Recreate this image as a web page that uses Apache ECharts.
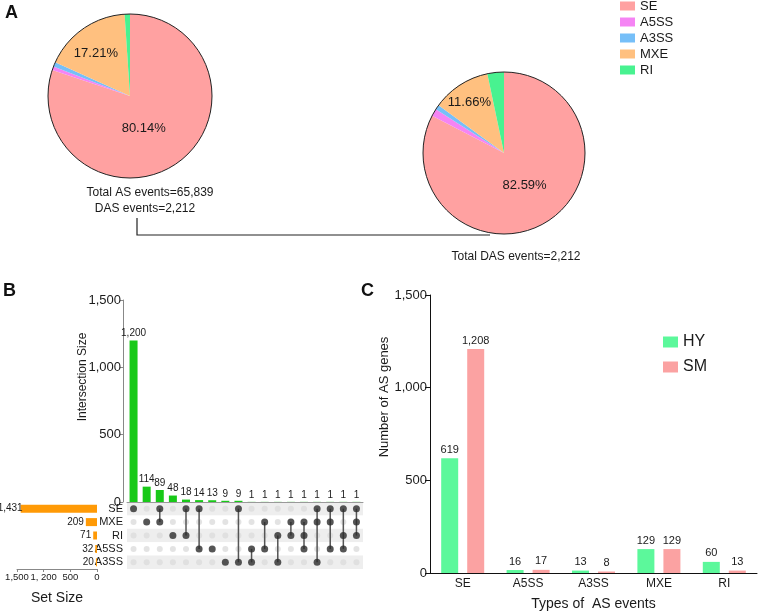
<!DOCTYPE html>
<html>
<head>
<meta charset="utf-8">
<script src="https://cdn.jsdelivr.net/npm/echarts@6.0.0/dist/echarts.min.js"></script>
<style>
  html, body { margin: 0; padding: 0; background: #fff; }
  #chart { width: 761px; height: 612px; }
</style>
</head>
<body>
<div id="chart"></div>
<script>
// --- Panel A: share of AS event types (all events vs. differential events)
const pieTypes = ['SE', 'A5SS', 'A3SS', 'MXE', 'RI']
const asEvents = [52764, 461, 593, 11331, 690]      // total 65,839
const dasEvents = [1827, 33, 21, 258, 73]           // total 2,212
const labeledTypes = ['SE', 'MXE']

// --- Panel B: UpSet plot
const setNames = ['SE', 'MXE', 'RI', 'A5SS', 'A3SS']
const setSizes = [1431, 209, 71, 32, 20]
const setTickLabels = { 0: '0', 500: '500', 1000: '1, 200', 1500: '1,500' }
const interSizes = [1200, 114, 89, 48, 18, 14, 13, 9, 9, 1, 1, 1, 1, 1, 1, 1, 1, 1]
const interSets = [
  ['SE'], ['MXE'], ['SE', 'MXE'], ['RI'], ['SE', 'RI'], ['SE', 'A5SS'], ['A5SS'], ['A3SS'],
  ['SE', 'A3SS'], ['A5SS', 'A3SS'], ['MXE', 'A5SS'], ['RI', 'A3SS'], ['MXE', 'RI'],
  ['MXE', 'RI', 'A5SS'], ['SE', 'MXE', 'A3SS'], ['SE', 'MXE', 'A5SS'], ['SE', 'RI', 'A5SS'],
  ['SE', 'MXE', 'RI']
]

// --- Panel C: AS genes per event type
const eventTypes = ['SE', 'A5SS', 'A3SS', 'MXE', 'RI']
const hyGenes = [619, 16, 13, 129, 60]
const smGenes = [1208, 17, 8, 129, 13]

const font = 'Arial, "Liberation Sans", sans-serif'
const pieColors = ['#FFA1A1', '#F584F4', '#76BFF8', '#FFC07F', '#48F290']
const addCommas = v => String(v).replace(/\B(?=(\d{3})+(?!\d))/g, ',')

// small nudges so the pie % labels sit where the figure has them
const pieLabelNudge = [
  { SE: [-12, -3], MXE: [-9, -6] },
  { SE: [-2, -5], MXE: [-11, -14] }
]

const pieSeries = (idx, values, center, radius) => {
  const total = values.reduce((s, v) => s + v, 0)
  return {
    name: 'pie' + idx,
    type: 'pie',
    center,
    radius,
    startAngle: 90,
    clockwise: true,
    silent: true,
    avoidLabelOverlap: false,
    data: pieTypes.map((t, i) => ({
      name: t,
      value: values[i],
      itemStyle: { color: pieColors[i] },
      label: { show: labeledTypes.includes(t) }
    })),
    itemStyle: { borderWidth: 0 },
    label: {
      position: 'inside',
      fontFamily: font,
      fontSize: 13,
      color: '#1a1a1a',
      formatter: p => (p.value / total * 100).toFixed(2) + '%'
    },
    labelLine: { show: false },
    labelLayout: p => {
      const n = pieLabelNudge[idx][pieTypes[p.dataIndex]]
      return n ? { dx: n[0], dy: n[1] } : {}
    },
    z: 2
  }
}

// thin black rim round each pie
const pieRim = (center, radius) => ({
  type: 'pie',
  center,
  radius,
  silent: true,
  data: [{ value: 1, name: 'rim' }],
  itemStyle: { color: 'rgba(0,0,0,0)', borderColor: '#222', borderWidth: 1 },
  label: { show: false },
  labelLine: { show: false },
  z: 3
})

// matrix points: inactive (grey) and active (dark)
const inactiveDots = []
const activeDots = []
const links = []
interSets.forEach((sets, c) => {
  const rows = sets.map(s => setNames.indexOf(s))
  setNames.forEach((s, r) => {
    if (rows.includes(r)) activeDots.push([c, r])
    else inactiveDots.push([c, r])
  })
  if (rows.length > 1) links.push([c, Math.min(...rows), Math.max(...rows)])
})

const chart = echarts.init(document.getElementById('chart'))

const option = {
  animation: false,
  textStyle: { fontFamily: font },

  legend: [
    {
      data: pieTypes,
      orient: 'vertical',
      left: 620,
      top: -2,
      padding: 0,
      itemWidth: 15,
      itemHeight: 9,
      itemGap: 0,
      icon: 'rect',
      selectedMode: false,
      textStyle: { fontFamily: font, fontSize: 13, lineHeight: 16, color: '#1a1a1a' }
    },
    {
      data: ['HY', 'SM'],
      orient: 'vertical',
      left: 663,
      top: 334,
      padding: 0,
      itemWidth: 15,
      itemHeight: 11,
      itemGap: 9,
      icon: 'rect',
      selectedMode: false,
      textStyle: { fontFamily: font, fontSize: 16, lineHeight: 16, color: '#1a1a1a' }
    }
  ],

  grid: [
    { left: 127, width: 236, top: 300, height: 202 },   // intersection bars
    { left: 127, width: 236, top: 502, height: 67 },    // matrix
    { left: 17, width: 80, top: 502, height: 67 },      // set size
    { left: 430, width: 327, top: 295, height: 283 }    // panel C
  ],

  xAxis: [
    {
      gridIndex: 0,
      type: 'category',
      data: interSizes.map((v, i) => 'c' + i),
      axisLine: { lineStyle: { color: '#999' } },
      axisTick: { show: false },
      axisLabel: { show: false }
    },
    {
      gridIndex: 1,
      type: 'category',
      data: interSizes.map((v, i) => 'c' + i),
      show: false
    },
    {
      gridIndex: 2,
      type: 'value',
      inverse: true,
      min: 0,
      max: 1500,
      interval: 500,
      axisLine: { show: true, lineStyle: { color: '#888' } },
      axisTick: { show: true, length: 3, lineStyle: { color: '#888' } },
      axisLabel: {
        fontSize: 9.5,
        color: '#1a1a1a',
        margin: 3,
        hideOverlap: false,
        showMinLabel: true,
        showMaxLabel: true,
        formatter: v => setTickLabels[v] ?? ''
      },
      splitLine: { show: false },
      name: 'Set Size',
      nameLocation: 'middle',
      nameGap: 22,
      nameTextStyle: { fontSize: 14, color: '#1a1a1a' }
    },
    {
      gridIndex: 3,
      type: 'category',
      data: eventTypes,
      axisLine: { lineStyle: { color: '#111' } },
      axisTick: { show: false },
      axisLabel: { fontSize: 12, color: '#1a1a1a', margin: 5 },
      name: 'Types of  AS events',
      nameLocation: 'middle',
      nameGap: 24,
      nameTextStyle: { fontSize: 14, color: '#1a1a1a' }
    }
  ],

  yAxis: [
    {
      gridIndex: 0,
      type: 'value',
      min: 0,
      max: 1500,
      interval: 500,
      offset: 4,
      axisLine: { show: true, lineStyle: { color: '#888' } },
      axisTick: { show: true, length: 3, lineStyle: { color: '#888' } },
      axisLabel: { fontSize: 13, color: '#1a1a1a', margin: 2, formatter: v => addCommas(v) },
      splitLine: { show: false }
    },
    {
      gridIndex: 1,
      type: 'category',
      data: setNames,
      inverse: true,
      axisLine: { show: false },
      axisTick: { show: false },
      axisLabel: { fontSize: 11, color: '#1a1a1a', margin: 4, interval: 0, hideOverlap: false },
      splitArea: { show: true, interval: 0, areaStyle: { color: ['#EEEEEE', '#FFFFFF'] } }
    },
    {
      gridIndex: 2,
      type: 'category',
      data: setNames,
      inverse: true,
      show: false
    },
    {
      gridIndex: 3,
      type: 'value',
      min: 0,
      max: 1500,
      interval: 500,
      axisLine: { show: true, lineStyle: { color: '#111' } },
      axisTick: { show: true, length: 5, lineStyle: { color: '#111' } },
      axisLabel: { fontSize: 13, color: '#1a1a1a', margin: 3, formatter: v => addCommas(v) },
      splitLine: { show: false }
    }
  ],

  series: [
    pieSeries(0, asEvents, [130, 96], 82),
    pieRim([130, 96], 82),
    pieSeries(1, dasEvents, [504, 153], 81),
    pieRim([504, 153], 81),

    {
      name: 'Intersection',
      type: 'bar',
      xAxisIndex: 0,
      yAxisIndex: 0,
      data: interSizes,
      barWidth: 8,
      itemStyle: { color: '#18C918' },
      label: {
        show: true,
        position: 'top',
        distance: 2,
        fontSize: 10,
        color: '#1a1a1a',
        formatter: p => addCommas(p.value)
      },
      silent: true
    },
    {
      name: 'inactive',
      type: 'scatter',
      xAxisIndex: 1,
      yAxisIndex: 1,
      data: inactiveDots,
      symbolSize: 6,
      itemStyle: { color: '#DCDCDC' },
      silent: true
    },
    {
      name: 'links',
      type: 'custom',
      xAxisIndex: 1,
      yAxisIndex: 1,
      data: links,
      encode: { x: 0, y: [1, 2] },
      renderItem: (params, api) => {
        const a = api.coord([api.value(0), api.value(1)])
        const b = api.coord([api.value(0), api.value(2)])
        return {
          type: 'line',
          shape: { x1: a[0], y1: a[1], x2: b[0], y2: b[1] },
          style: { stroke: '#555', lineWidth: 1.5 }
        }
      },
      silent: true,
      z: 3
    },
    {
      name: 'active',
      type: 'scatter',
      xAxisIndex: 1,
      yAxisIndex: 1,
      data: activeDots,
      symbolSize: 7,
      itemStyle: { color: '#2b2b2b' },
      silent: true,
      z: 4
    },
    {
      name: 'Set Size',
      type: 'bar',
      xAxisIndex: 2,
      yAxisIndex: 2,
      // the longest bar's label tucks in against the bar end, as in the figure
      data: setSizes.map((v, i) => (i === 0 ? { value: v, label: { distance: -2 } } : v)),
      barWidth: 8,
      itemStyle: { color: '#FF9A06' },
      label: {
        show: true,
        position: 'left',
        distance: 2,
        fontSize: 10,
        color: '#1a1a1a',
        formatter: p => addCommas(p.value)
      },
      silent: true
    },
    {
      name: 'HY',
      type: 'bar',
      xAxisIndex: 3,
      yAxisIndex: 3,
      data: hyGenes,
      barWidth: 17,
      barGap: '53%',
      itemStyle: { color: '#5CF89B' },
      label: { show: true, position: 'top', distance: 3, fontSize: 11, color: '#1a1a1a', formatter: p => addCommas(p.value) },
      silent: true
    },
    {
      name: 'SM',
      type: 'bar',
      xAxisIndex: 3,
      yAxisIndex: 3,
      data: smGenes,
      barWidth: 17,
      barGap: '53%',
      itemStyle: { color: '#FBA2A2' },
      label: { show: true, position: 'top', distance: 3, fontSize: 11, color: '#1a1a1a', formatter: p => addCommas(p.value) },
      silent: true
    }
  ],

  graphic: [
    { type: 'text', x: 5, y: 4, style: { text: 'A', font: 'bold 18px ' + font, fill: '#111' } },
    { type: 'text', x: 3, y: 282, style: { text: 'B', font: 'bold 18px ' + font, fill: '#111' } },
    { type: 'text', x: 361, y: 282, style: { text: 'C', font: 'bold 18px ' + font, fill: '#111' } },
    {
      type: 'text', x: 150, y: 193,
      style: { text: 'Total AS events=65,839', font: '12px ' + font, fill: '#1a1a1a', textAlign: 'center', textVerticalAlign: 'middle' }
    },
    {
      type: 'text', x: 145, y: 209,
      style: { text: 'DAS events=2,212', font: '12px ' + font, fill: '#1a1a1a', textAlign: 'center', textVerticalAlign: 'middle' }
    },
    {
      type: 'text', x: 516, y: 257,
      style: { text: 'Total DAS events=2,212', font: '12px ' + font, fill: '#1a1a1a', textAlign: 'center', textVerticalAlign: 'middle' }
    },
    {
      type: 'polyline',
      shape: { points: [[137, 218], [137, 235], [490, 235]] },
      style: { stroke: '#222', lineWidth: 1.2, fill: null }
    },
    {
      type: 'text', x: 83, y: 377, rotation: Math.PI / 2,
      style: { text: 'Intersection Size', font: '12px ' + font, fill: '#1a1a1a', textAlign: 'center', textVerticalAlign: 'middle' }
    },
    {
      type: 'text', x: 384, y: 397, rotation: Math.PI / 2,
      style: { text: 'Number of AS genes', font: '13px ' + font, fill: '#1a1a1a', textAlign: 'center', textVerticalAlign: 'middle' }
    }
  ]
}

chart.setOption(option)
</script>
</body>
</html>
